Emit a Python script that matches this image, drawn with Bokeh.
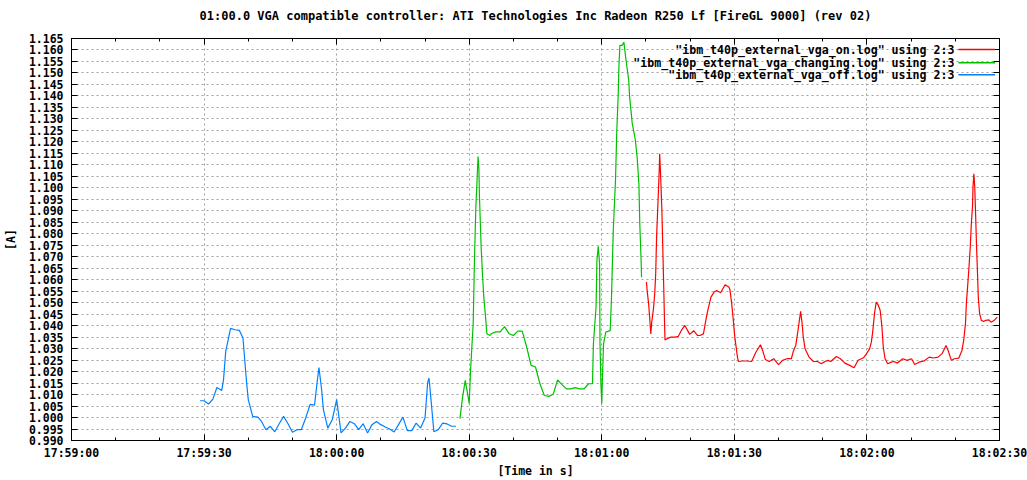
from bokeh.plotting import figure
from bokeh.models import (ColumnDataSource, Range1d, FixedTicker, LinearAxis,
                          NumeralTickFormatter, Label, Arrow, CustomLabelingPolicy)
from bokeh.embed import file_html
from bokeh.resources import INLINE

TITLE = "01:00.0 VGA compatible controller: ATI Technologies Inc Radeon R250 Lf [FireGL 9000] (rev 02)"
X_LABEL = "[Time in s]"
Y_LABEL = "[A]"

# x values: seconds after 17:59:00
x_ticks = [0, 30, 60, 90, 120, 150, 180, 210]
x_tick_labels = ["17:59:00", "17:59:30", "18:00:00", "18:00:30",
                 "18:01:00", "18:01:30", "18:02:00", "18:02:30"]
x_minor = [10, 20, 40, 50, 70, 80, 100, 110, 130, 140, 160, 170, 190, 200]
y_min, y_max, y_step = 0.990, 1.165, 0.005

series_names = ['"ibm_t40p_external_vga_on.log" using 2:3',
                '"ibm_t40p_external_vga_changing.log" using 2:3',
                '"ibm_t40p_external_vga_off.log" using 2:3']
series_colors = ["#ff0000", "#00c000", "#0080ff"]

off_t = [29.1, 30, 31, 32, 32.9, 34, 34.4, 34.9, 36, 37, 38, 38.8, 39.6, 40, 41,
         42.2, 43, 44, 45, 46, 47, 48, 49, 50, 51, 52, 53, 54, 55, 55.6, 56,
         56.6, 57, 58, 59, 60, 61, 62, 63, 64, 65, 66, 67, 68, 69, 70, 71, 72,
         73, 74, 75, 76, 77, 78, 79, 80, 80.6, 80.9, 81.3, 82, 83, 84, 85, 86, 87]
off_a = [1.0073, 1.0073, 1.0059, 1.0080, 1.0131, 1.0118, 1.0164, 1.0288, 1.0388,
         1.0382, 1.0379, 1.0346, 1.0157, 1.0078, 1.0005, 1.0002, 0.9983, 0.9947,
         0.9962, 0.9938, 0.9973, 1.0005, 0.9973, 0.9936, 0.9947, 0.9947, 0.9998,
         1.0057, 1.0054, 1.0157, 1.0218, 1.0121, 1.0034, 0.9954, 0.9990, 1.0078,
         0.9933, 0.9954, 0.9983, 0.9973, 0.9947, 0.9973, 0.9933, 0.9969, 0.9983,
         0.9969, 0.9959, 0.9950, 0.9937, 0.9969, 1.0002, 0.9943, 0.9943, 0.9976,
         0.9954, 0.9998, 1.0153, 1.0172, 1.0089, 0.9938, 0.9947, 0.9976, 0.9972,
         0.9962, 0.9962]

changing_t = [87.9, 88.5, 89.1, 89.7, 90.0, 90.3, 90.9, 91.2, 91.5, 91.8, 92.0,
              92.2, 92.3, 92.5, 92.7, 93.0, 93.3, 93.6, 94.0, 94.7, 95, 96, 97,
              98, 99, 100, 101, 102, 103, 104, 105, 106, 107, 108, 109, 110, 111,
              112, 113, 114, 115, 116, 117, 117.9, 118.1, 118.7, 118.9, 119.2,
              119.5, 119.6, 119.8, 120.0, 120.15, 120.4, 120.9, 121.9, 122.2,
              122.6, 123.1, 123.4, 123.7, 123.9, 124.1, 124.6, 125.0, 125.4,
              125.7, 126.1, 126.3, 126.6, 126.9, 127.2, 127.6, 128.0, 128.4,
              128.6, 128.9, 129.0]
changing_a = [0.9995, 1.0089, 1.0162, 1.0096, 1.0060, 1.0205, 1.0408, 1.0698,
              1.0915, 1.1046, 1.1136, 1.1078, 1.0973, 1.0857, 1.0741, 1.0625,
              1.0524, 1.0459, 1.0365, 1.0357, 1.0365, 1.0373, 1.0373, 1.0396,
              1.0365, 1.0357, 1.0376, 1.0376, 1.0307, 1.0227, 1.0220, 1.0147,
              1.0096, 1.0092, 1.0101, 1.0164, 1.0143, 1.0125, 1.0125, 1.0130,
              1.0125, 1.0125, 1.0147, 1.0147, 1.0320, 1.0480, 1.0684, 1.0745,
              1.0670, 1.0321, 1.0147, 1.0060, 1.0176, 1.0321, 1.0372, 1.0378,
              1.0524, 1.0814, 1.1032, 1.1250, 1.1395, 1.1540, 1.1620, 1.1620,
              1.1634, 1.1569, 1.1525, 1.1467, 1.1395, 1.1337, 1.1279, 1.1250,
              1.1206, 1.1133, 1.1017, 1.0843, 1.0684, 1.0611]

on_t = [130.1, 130.3, 130.6, 130.8, 131.1, 131.3, 131.6, 131.8, 132.0, 132.2,
        132.4, 132.7, 133.0, 133.1, 133.3, 133.6, 133.8, 134.0, 134.2, 134.3,
        134.8, 135.6, 136.6, 137.3, 138.0, 138.8, 139.9, 140.8, 141.7, 142.2,
        143.0, 143.4, 143.9, 144.7, 145.4, 146.0, 146.9, 147.9, 148.8, 149.0,
        149.4, 149.7, 150.1, 150.4, 150.7, 150.9, 151.8, 152.9, 153.9, 154.9,
        155.9, 156.4, 157.0, 157.9, 158.9, 160.0, 160.9, 161.9, 162.9, 163.4,
        163.9, 164.4, 164.7, 165.0, 165.3, 165.6, 166.0, 166.9, 167.9, 168.8,
        169.7, 170.5, 171.2, 171.8, 173.1, 174.0, 175.0, 176.1, 177.1, 178.0,
        179.2, 179.8, 180.6, 181.0, 181.3, 181.7, 182.1, 182.6, 183.0, 183.4,
        183.7, 184.1, 184.7, 185.5, 186.1, 186.9, 188.1, 189.1, 190.1, 190.8,
        191.8, 192.9, 194.1, 195.0, 196.1, 197.0, 197.9, 198.5, 199.1, 199.8,
        200.8, 201.5, 201.9, 202.3, 202.5, 202.8, 203.1, 203.4, 203.6, 203.9,
        204.0, 204.2, 204.4, 204.6, 204.8, 205.0, 205.2, 205.5, 205.9, 206.4,
        206.9, 207.6, 208.1, 208.9, 209.5]
on_a = [1.0590, 1.0546, 1.0495, 1.0444, 1.0364, 1.0415, 1.0459, 1.0495, 1.0546,
        1.0626, 1.0785, 1.0930, 1.1075, 1.1148, 1.1061, 1.0901, 1.0742, 1.0582,
        1.0415, 1.0338, 1.0343, 1.0350, 1.0350, 1.0353, 1.0379, 1.0401, 1.0362,
        1.0378, 1.0357, 1.0357, 1.0364, 1.0408, 1.0459, 1.0524, 1.0546, 1.0553,
        1.0543, 1.0578, 1.0567, 1.0556, 1.0495, 1.0437, 1.0350, 1.0307, 1.0263,
        1.0244, 1.0246, 1.0246, 1.0244, 1.0285, 1.0317, 1.0292, 1.0253, 1.0244,
        1.0256, 1.0230, 1.0249, 1.0256, 1.0256, 1.0292, 1.0314, 1.0379, 1.0422,
        1.0462, 1.0415, 1.0350, 1.0299, 1.0263, 1.0244, 1.0244, 1.0234, 1.0244,
        1.0249, 1.0244, 1.0266, 1.0256, 1.0237, 1.0227, 1.0217, 1.0249, 1.0260,
        1.0275, 1.0299, 1.0328, 1.0372, 1.0451, 1.0502, 1.0488, 1.0466, 1.0393,
        1.0307, 1.0256, 1.0234, 1.0241, 1.0244, 1.0237, 1.0256, 1.0249, 1.0256,
        1.0231, 1.0241, 1.0246, 1.0263, 1.0259, 1.0263, 1.0278, 1.0314, 1.0285,
        1.0249, 1.0256, 1.0259, 1.0292, 1.0336, 1.0408, 1.0495, 1.0575, 1.0655,
        1.0749, 1.0836, 1.0923, 1.1003, 1.1061, 1.1003, 1.0880, 1.0749, 1.0640,
        1.0524, 1.0452, 1.0423, 1.0418, 1.0423, 1.0425, 1.0415, 1.0425, 1.0437]

FONT = "DejaVu Sans Mono"
FS = "11.5px"

y_ticks = [round(y_min + i * y_step, 3) for i in range(int(round((y_max - y_min) / y_step)) + 1)]

p = figure(output_backend="svg", toolbar_location=None,
           frame_width=928, frame_height=402,
           min_border_left=69, min_border_right=30, min_border_top=38, min_border_bottom=40,
           x_range=Range1d(x_ticks[0], x_ticks[-1]), y_range=Range1d(y_min, y_max),
           title=TITLE)
p.title.align = "center"
p.title.offset = 4
p.title.text_font = FONT
p.title.text_font_size = "12px"
p.title.text_font_style = "bold"
p.title.text_color = "black"
p.title.standoff = 10

p.outline_line_color = "black"
p.outline_line_width = 1
p.outline_line_alpha = 1
p.background_fill_color = "white"
p.border_fill_color = "white"

xt = FixedTicker(ticks=x_ticks, minor_ticks=x_minor)
yt = FixedTicker(ticks=y_ticks)

xa = p.xaxis[0]
xa.ticker = xt
xa.major_label_overrides = {t: lab for t, lab in zip(x_ticks, x_tick_labels)}
xa.axis_label = X_LABEL
ya = p.yaxis[0]
ya.ticker = yt
ya.formatter = NumeralTickFormatter(format="0.000")
ya.axis_label = Y_LABEL

for ax in (xa, ya):
    ax.major_tick_in = 6
    ax.major_tick_out = 0
    ax.minor_tick_in = 3
    ax.minor_tick_out = 0
    ax.axis_line_color = "black"
    ax.major_tick_line_color = "black"
    ax.minor_tick_line_color = "black"
    ax.major_label_text_font = FONT
    ax.major_label_text_font_size = FS
    ax.major_label_text_font_style = "bold"
    ax.major_label_text_color = "black"
    ax.axis_label_text_font = FONT
    ax.axis_label_text_font_size = FS
    ax.axis_label_text_font_style = "bold"
    ax.axis_label_text_color = "black"
xa.major_label_standoff = 5
xa.axis_label_standoff = 1
ya.major_label_standoff = 8
ya.axis_label_standoff = 8

# mirrored tick marks (top and right) without labels, as in the original
hide_code = "for (const i of indices) indices.unset(i); return indices"
top = LinearAxis(ticker=FixedTicker(ticks=x_ticks, minor_ticks=x_minor),
                 major_label_policy=CustomLabelingPolicy(code=hide_code),
                 major_label_standoff=0,
                 major_tick_in=6, major_tick_out=0, minor_tick_in=3, minor_tick_out=0,
                 axis_line_color="black")
right = LinearAxis(ticker=FixedTicker(ticks=y_ticks),
                   major_label_policy=CustomLabelingPolicy(code=hide_code),
                   major_label_standoff=0,
                   major_tick_in=6, major_tick_out=0, minor_tick_in=0, minor_tick_out=0,
                   axis_line_color="black")
p.add_layout(top, "above")
p.add_layout(right, "right")

p.xgrid.ticker = xt
p.ygrid.ticker = yt
for g in (p.xgrid[0], p.ygrid[0]):
    g.grid_line_color = "#a0a0a0"
    g.grid_line_dash = "2 3"
    g.grid_line_width = 1

series = [(on_t, on_a), (changing_t, changing_a), (off_t, off_a)]
for (tt, aa), col in zip(series, series_colors):
    src = ColumnDataSource(dict(t=tt, a=aa))
    p.line("t", "a", source=src, line_color=col, line_width=1.2)

# key in gnuplot style: right-aligned text, line sample to the right
key_text_x = 199.8
key_line = (200.7, 209.0)
key_rows = [1.16021, 1.15442, 1.14920]
for name, col, ky in zip(series_names, series_colors, key_rows):
    p.add_layout(Label(x=key_text_x, y=ky, text=name, text_align="right",
                       text_baseline="middle", text_font=FONT, text_font_size="11.6px",
                       text_font_style="bold", text_color="black"))
    p.add_layout(Arrow(end=None, x_start=key_line[0], y_start=ky, x_end=key_line[1],
                       y_end=ky, line_color=col, line_width=1.5))

open("out.html", "w").write(file_html(p, INLINE))
